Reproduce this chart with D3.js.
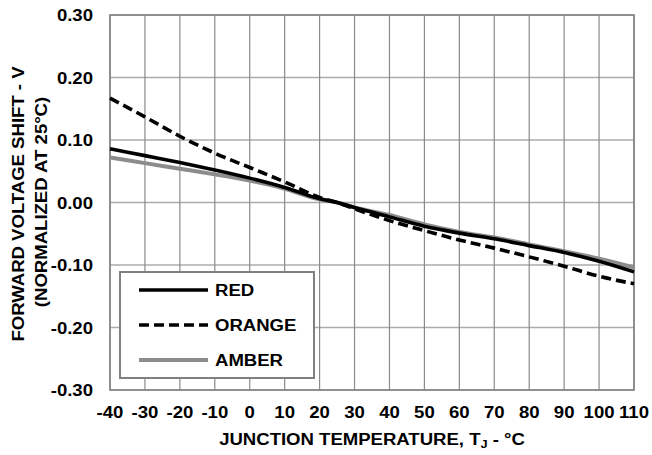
<!DOCTYPE html>
<html><head><meta charset="utf-8">
<script src="https://cdn.jsdelivr.net/npm/d3@7"></script>
<style>body{margin:0;background:#fff}svg{display:block}text{font-family:"Liberation Sans",Arial,sans-serif;font-weight:bold;fill:#000}</style>
</head><body><svg id="c" width="652" height="455"></svg>
<script>
const temps = [-40,-30,-20,-10,0,10,20,25,30,40,50,60,70,80,90,100,110];
const red    = [0.086,0.075,0.064,0.052,0.039,0.024,0.006,0,-0.008,-0.023,-0.038,-0.049,-0.058,-0.069,-0.080,-0.094,-0.111];
const orange = [0.167,0.137,0.106,0.079,0.056,0.033,0.008,0,-0.010,-0.029,-0.045,-0.060,-0.073,-0.087,-0.102,-0.118,-0.130];
const amber  = [0.072,0.063,0.054,0.045,0.035,0.022,0.005,0,-0.008,-0.020,-0.035,-0.047,-0.056,-0.067,-0.078,-0.090,-0.104];
const xTicks = [-40,-30,-20,-10,0,10,20,30,40,50,60,70,80,90,100,110];
const yTicks = [0.30,0.20,0.10,0.00,-0.10,-0.20,-0.30];
const seriesNames = ["RED","ORANGE","AMBER"];
const xTitle = "JUNCTION TEMPERATURE, T";
const yTitle1 = "FORWARD VOLTAGE SHIFT - V";
const yTitle2 = "(NORMALIZED AT 25°C)";

const svg = d3.select("#c");
const L=110,R=634,T=15,B=390, SX=1.16;
const x = d3.scaleLinear().domain([-40,110]).range([L,R]);
const y = d3.scaleLinear().domain([-0.30,0.30]).range([B,T]);

function txt(px,py,s,anchor,rot){
  const g = svg.append("g").attr("transform",`translate(${px},${py})${rot?" rotate(-90)":""}`);
  return g.append("text").attr("transform",`scale(${SX},1)`).attr("text-anchor",anchor||"start")
    .style("font-size","16px").text(s);
}

// grid
svg.append("g").selectAll("line").data(yTicks).join("line")
  .attr("x1",L).attr("x2",R).attr("y1",d=>y(d)).attr("y2",d=>y(d))
  .attr("stroke","#ababab").attr("stroke-width",1.5);
svg.append("g").selectAll("line").data(xTicks).join("line")
  .attr("x1",d=>x(d)).attr("x2",d=>x(d)).attr("y1",T).attr("y2",B)
  .attr("stroke","#8a8a8a").attr("stroke-width",1.2);
svg.append("rect").attr("x",L).attr("y",T).attr("width",R-L).attr("height",B-T)
  .attr("fill","none").attr("stroke","#808080").attr("stroke-width",1.5);

// tick labels
yTicks.forEach(v=>txt(93,y(v)+6,d3.format(".2f")(v).replace("−","-"),"end"));
xTicks.forEach(v=>txt(x(v),418,String(v),"middle"));

// axis titles
const xt = txt(372,445,"", "middle");
xt.append("tspan").text(xTitle);
xt.append("tspan").attr("dy",3).style("font-size","11px").text("J");
xt.append("tspan").attr("dy",-3).text(" - °C");
txt(23.5,204,yTitle1,"middle",true);
txt(46.5,202,yTitle2,"middle",true);

// lines
const line = d3.line().x((d,i)=>x(temps[i])).y(d=>y(d)).curve(d3.curveMonotoneX);
const styles = [
  {data:red, stroke:"#000", w:3.6, dash:null},
  {data:orange, stroke:"#000", w:3.6, dash:"10,5"},
  {data:amber, stroke:"#8c8c8c", w:4, dash:null}
];
[styles[2],styles[1],styles[0]].forEach(s=>{
  svg.append("path").datum(s.data).attr("d",line).attr("fill","none")
    .attr("stroke",s.stroke).attr("stroke-width",s.w).attr("stroke-dasharray",s.dash);
});

// legend
svg.append("rect").attr("x",120).attr("y",272).attr("width",194).attr("height",106)
  .attr("fill","#fff").attr("stroke","#808080").attr("stroke-width",2);
const ly = [290,325,360];
styles.forEach((s,i)=>{
  svg.append("line").attr("x1",139).attr("x2",208).attr("y1",ly[i]).attr("y2",ly[i])
    .attr("stroke",s.stroke).attr("stroke-width",s.w).attr("stroke-dasharray",s.dash);
  txt(215,ly[i]+6,seriesNames[i],"start");
});
</script></body></html>
